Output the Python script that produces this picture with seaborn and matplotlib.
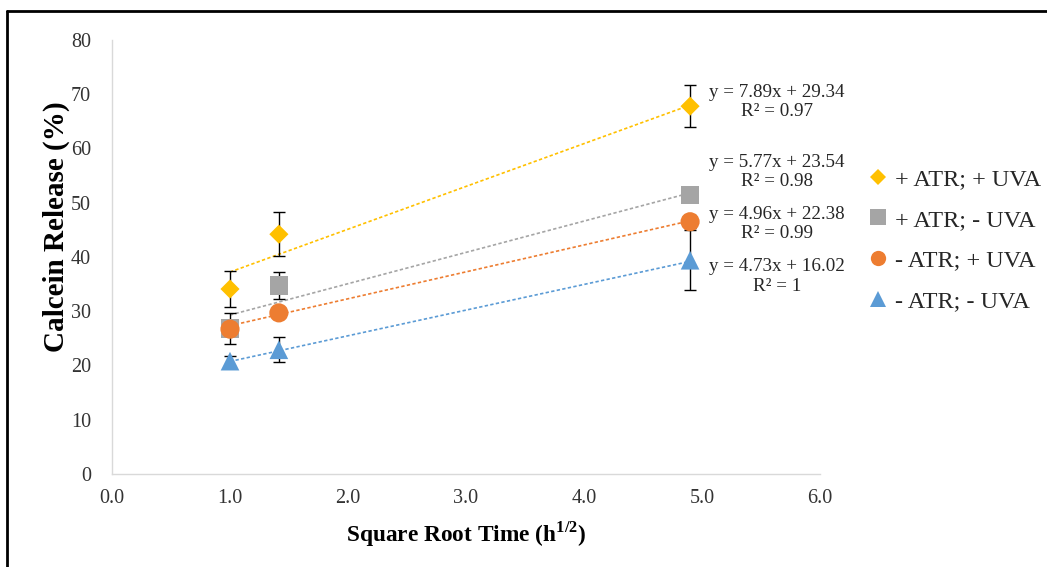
import numpy as np
import pandas as pd
import matplotlib
matplotlib.use("Agg")
import matplotlib.pyplot as plt
from matplotlib.lines import Line2D
import seaborn as sns

# ---- data -------------------------------------------------------------
hours = [1, 2, 24]
sqrt_time = list(np.sqrt(hours))          # 1.0, 1.41, 4.90

series = ["+ ATR; + UVA", "+ ATR; - UVA", "- ATR; + UVA", "- ATR; - UVA"]

atr_uva = [34.1, 44.2, 67.8]
atr_nouva = [26.8, 34.7, 51.4]
noatr_uva = [26.7, 29.7, 46.5]
noatr_nouva = [20.8, 22.9, 39.4]

err_atr_uva = [3.4, 4.1, 3.9]
err_atr_nouva = [2.8, 2.5, 0.8]
err_noatr_uva = [1.2, 0.8, 1.2]
err_noatr_nouva = [1.0, 2.3, 5.5]

# linear trendline coefficients (slope, intercept, R^2)
slopes = [7.89, 5.77, 4.96, 4.73]
intercepts = [29.34, 23.54, 22.38, 16.02]
r_squared = ["0.97", "0.98", "0.99", "1"]

values = [atr_uva, atr_nouva, noatr_uva, noatr_nouva]
errors = [err_atr_uva, err_atr_nouva, err_noatr_uva, err_noatr_nouva]

colors = ["#FFC000", "#A5A5A5", "#ED7D31", "#5B9BD5"]
markers = ["D", "s", "o", "^"]
marker_area = [95, 180, 190, 180]

# ---- styling ----------------------------------------------------------
sns.set_theme(style="white")
plt.rcParams["font.family"] = ["Liberation Serif", "DejaVu Serif"]
plt.rcParams["mathtext.fontset"] = "custom"
plt.rcParams["mathtext.rm"] = "Liberation Serif"
plt.rcParams["mathtext.bf"] = "Liberation Serif:bold"

W, H = 1047, 567
fig = plt.figure(figsize=(W / 100, H / 100), dpi=100)
ax = fig.add_axes([112 / W, (H - 474) / H, 708 / W, 434 / H])

df = pd.DataFrame({
    "x": np.tile(sqrt_time, len(series)),
    "y": np.concatenate(values),
    "err": np.concatenate(errors),
    "group": np.repeat(series, len(sqrt_time)),
})

# trendlines from the fitted equations
for name, m, b, c in zip(series, slopes, intercepts, colors):
    sub = df[df["group"] == name]
    fit = pd.DataFrame({"x": sub["x"], "fit": m * sub["x"] + b})
    sns.lineplot(data=fit, x="x", y="fit", ax=ax, color=c, lw=1.2,
                 linestyle=(0, (2, 1.4)), zorder=2, legend=False)

# error bars
for name in series:
    sub = df[df["group"] == name]
    ax.errorbar(sub["x"], sub["y"], yerr=sub["err"], fmt="none",
                ecolor="black", elinewidth=1, capsize=4, capthick=1, zorder=3)

# markers
for name, c, mk, s in zip(series, colors, markers, marker_area):
    sub = df[df["group"] == name]
    sns.scatterplot(data=sub, x="x", y="y", ax=ax, color=c, marker=mk,
                    s=s, edgecolor="none", linewidth=0, zorder=4, legend=False)

# equation labels
eq_y = [68.6, 55.7, 46.1, 36.4]
for m, b, r2, yy in zip(slopes, intercepts, r_squared, eq_y):
    ax.text(5.636, yy, f"y = {m:.2f}x + {b:.2f}\nR\u00b2 = {r2}",
            ha="center", va="center", multialignment="center",
            fontsize=13.7, color="#262626", linespacing=1.2, zorder=5)

# axes
ax.set_xlim(0, 6)
ax.set_ylim(0, 80)
ax.set_xticks(np.arange(0, 6.01, 1.0))
ax.set_xticklabels([f"{v:.1f}" for v in np.arange(0, 6.01, 1.0)])
ax.set_yticks(np.arange(0, 81, 10))
for side in ["top", "right"]:
    ax.spines[side].set_visible(False)
for side in ["left", "bottom"]:
    ax.spines[side].set_color("#D9D9D9")
    ax.spines[side].set_linewidth(1)
ax.tick_params(axis="both", direction="in", length=6, width=1,
               color="#D9D9D9", labelsize=14.5, labelcolor="#333333")
ax.tick_params(axis="y", pad=15)
ax.tick_params(axis="x", pad=11)
ax.set_xlabel(r"Square Root Time (h$^{\mathbf{1/2}}$)", fontsize=16.8,
              fontweight="bold", color="black")
ax.set_ylabel("Calcein Release (%)", fontsize=21, fontweight="bold",
              color="black")
ax.xaxis.set_label_coords(0.5, -(534 - 474) / 434)
ax.yaxis.set_label_coords((56 - 112) / 708, (474 - 227) / 434)
ax.xaxis.label.set_va("center")
ax.yaxis.label.set_va("center")

# legend
handles = [Line2D([], [], linestyle="none", marker=mk, color=c,
                  markeredgewidth=0, markersize=ms)
           for mk, c, ms in zip(markers, colors, [8, 11, 11, 11])]
fig.legend(handles, series, loc="upper left",
           bbox_to_anchor=(866 / W, 1 - 168 / H), bbox_transform=fig.transFigure,
           frameon=False, fontsize=17.5, handlelength=1.0, handletextpad=0.2,
           labelspacing=0.77, borderpad=0, borderaxespad=0,
           labelcolor="#262626")

# frame around the figure (top and left edges)
fig.add_artist(Line2D([7 / W, 1.0], [1 - 11 / H, 1 - 11 / H],
                      transform=fig.transFigure, color="black", lw=2))
fig.add_artist(Line2D([7 / W, 7 / W], [0, 1 - 11 / H],
                      transform=fig.transFigure, color="black", lw=2))

fig.savefig("out.png", dpi=100)
